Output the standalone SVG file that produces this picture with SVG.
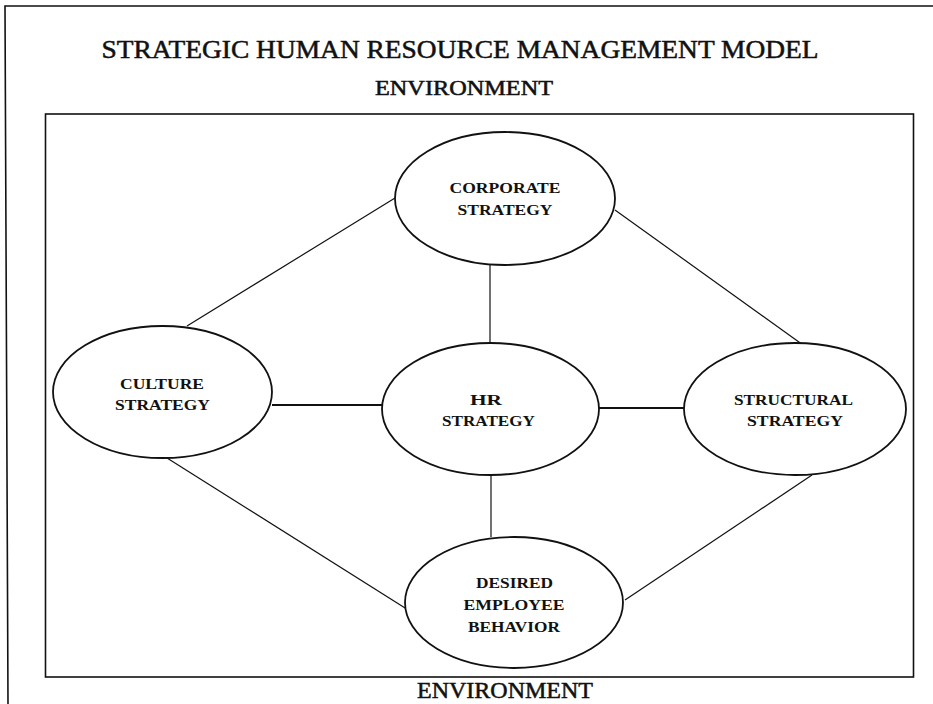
<svg xmlns="http://www.w3.org/2000/svg" width="933" height="704" viewBox="0 0 933 704">
<style>
.frame{fill:none;stroke:#111;stroke-width:1.6}
.node ellipse{fill:#fff;stroke:#111;stroke-width:1.8}
.node text{font-family:"Liberation Serif","Times New Roman",serif;font-weight:bold;font-size:15px;fill:#111;text-anchor:middle}
.head{font-family:"Liberation Serif","Times New Roman",serif;fill:#111;stroke:#111;stroke-width:0.5;text-anchor:middle}
#connectors line{stroke:#111;stroke-width:1.2;fill:none}
#connectors line.thick{stroke-width:2}
</style>
<rect width="933" height="704" fill="#fff"/>
<polyline class="frame" points="8,704 5,6 933,6"/>
<rect class="frame" x="45.5" y="114" width="868" height="563"/>
<text class="head" x="460" y="58" font-size="25" textLength="717" lengthAdjust="spacingAndGlyphs">STRATEGIC HUMAN RESOURCE MANAGEMENT MODEL</text>
<text class="head" x="464" y="95" font-size="20" textLength="178" lengthAdjust="spacingAndGlyphs">ENVIRONMENT</text>
<text class="head" x="505" y="698" font-size="23" textLength="176" lengthAdjust="spacingAndGlyphs">ENVIRONMENT</text>
<g id="connectors">
<line x1="395" y1="198" x2="187" y2="326"/>
<line x1="615" y1="210" x2="810" y2="350"/>
<line x1="490" y1="265" x2="490" y2="343"/>
<line class="thick" x1="272" y1="405" x2="388" y2="405"/>
<line class="thick" x1="599" y1="408" x2="684" y2="408"/>
<line x1="491" y1="475" x2="491" y2="537"/>
<line x1="167" y1="458" x2="413" y2="613"/>
<line x1="812" y1="475" x2="625" y2="600"/>
</g>
<g id="corporate" class="node">
<ellipse cx="505" cy="198.5" rx="110" ry="66.5"/>
<text x="505" y="193" textLength="111" lengthAdjust="spacingAndGlyphs">CORPORATE</text>
<text x="505" y="215" textLength="95" lengthAdjust="spacingAndGlyphs">STRATEGY</text>
</g>
<g id="culture" class="node">
<ellipse cx="162.5" cy="392" rx="109.5" ry="66"/>
<text x="162" y="389" textLength="84" lengthAdjust="spacingAndGlyphs">CULTURE</text>
<text x="162.5" y="410" textLength="95" lengthAdjust="spacingAndGlyphs">STRATEGY</text>
</g>
<g id="hr" class="node">
<ellipse cx="490.5" cy="409" rx="108.5" ry="66"/>
<text x="486" y="405" textLength="32" lengthAdjust="spacingAndGlyphs">HR</text>
<text x="488.5" y="426" textLength="93" lengthAdjust="spacingAndGlyphs">STRATEGY</text>
</g>
<g id="structural" class="node">
<ellipse cx="795" cy="409" rx="111" ry="66"/>
<text x="793.5" y="405" textLength="119" lengthAdjust="spacingAndGlyphs">STRUCTURAL</text>
<text x="795" y="426" textLength="96" lengthAdjust="spacingAndGlyphs">STRATEGY</text>
</g>
<g id="desired" class="node">
<ellipse cx="514" cy="602.5" rx="109" ry="65.5"/>
<text x="514.5" y="588" textLength="77" lengthAdjust="spacingAndGlyphs">DESIRED</text>
<text x="514" y="610" textLength="101" lengthAdjust="spacingAndGlyphs">EMPLOYEE</text>
<text x="514" y="632" textLength="92" lengthAdjust="spacingAndGlyphs">BEHAVIOR</text>
</g>
</svg>
